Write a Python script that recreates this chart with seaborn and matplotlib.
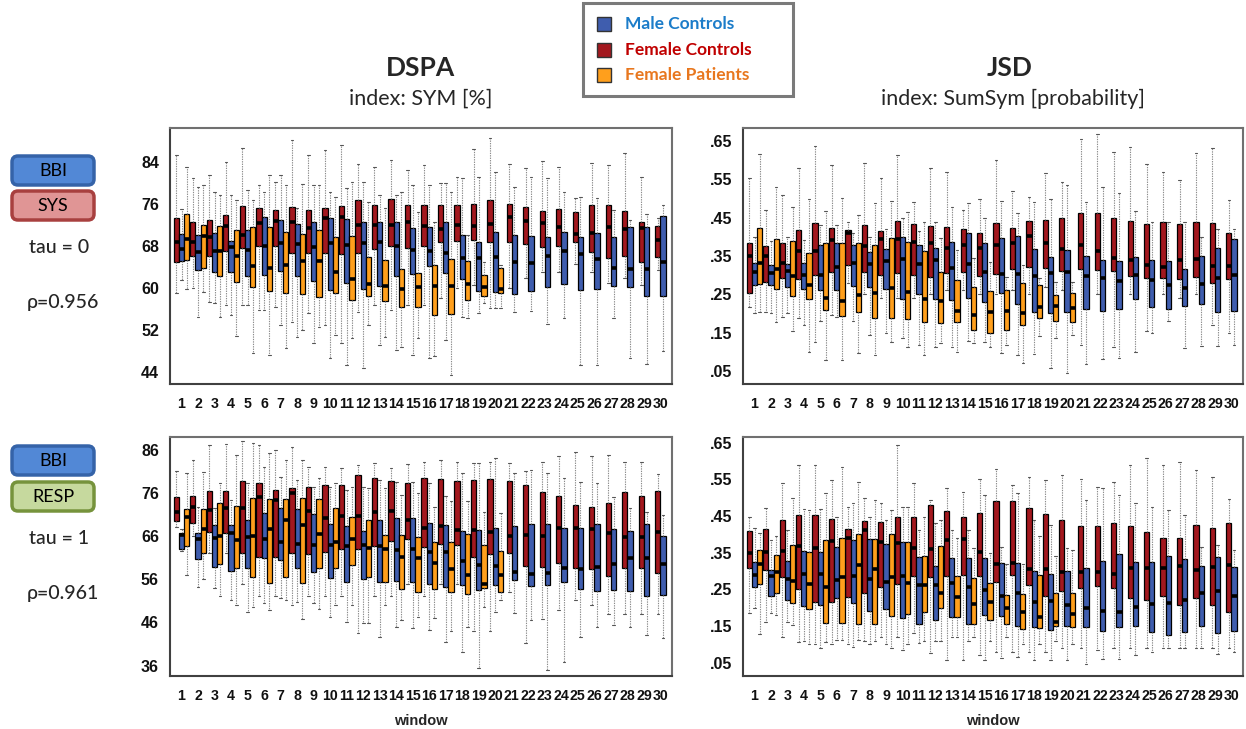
import matplotlib
matplotlib.use("Agg")
import matplotlib.pyplot as plt
from matplotlib.patches import FancyBboxPatch, Rectangle
import pandas as pd
import seaborn as sns

# ---------------------------------------------------------------------------
# Categories
# ---------------------------------------------------------------------------
WINDOWS = [str(w) for w in range(1, 31)]
N_PATIENT_WINDOWS = 20          # patients were only recorded in windows 1-20

GROUPS = ["Male Controls", "Female Controls", "Female Patients"]
BOX_COLORS = {"Male Controls": "#3F5DAE",
              "Female Controls": "#A3181E",
              "Female Patients": "#FF9F1C"}
TEXT_COLORS = {"Male Controls": "#1B7CC9",
               "Female Controls": "#C00000",
               "Female Patients": "#E8771E"}

# ---------------------------------------------------------------------------
# Five-number summaries per window: (whisker low, Q1, median, Q3, whisker high)
# ---------------------------------------------------------------------------
# DSPA, index SYM [%], BBI-SYS, tau = 0
DSPA_T0_FEMALE_CTRL = [
    (59.1, 64.9, 68.7, 73.3, 85.3), (60.0, 66.1, 68.7, 72.6, 80.9), (57.4, 66.1, 69.7, 73.0, 81.5),
    (56.8, 67.0, 71.9, 74.0, 84.1), (56.8, 67.7, 70.1, 75.6, 86.6), (55.8, 68.1, 72.3, 75.2, 79.6),
    (56.4, 68.1, 72.8, 74.9, 80.3), (53.6, 66.7, 72.6, 75.5, 88.2), (55.2, 66.6, 71.4, 74.9, 85.3),
    (53.0, 66.6, 73.3, 75.3, 86.3), (49.5, 66.4, 73.6, 75.6, 87.2), (55.5, 66.6, 72.1, 76.8, 83.6),
    (56.8, 67.4, 72.0, 75.9, 83.1), (55.8, 68.0, 72.1, 77.0, 84.4), (56.8, 67.6, 72.5, 75.8, 82.5),
    (56.8, 68.0, 71.8, 75.8, 83.4), (58.0, 68.7, 71.2, 75.8, 80.0), (60.0, 69.0, 72.0, 75.9, 81.2),
    (60.5, 69.1, 71.9, 76.1, 86.5), (56.1, 68.8, 72.2, 76.8, 88.5), (60.0, 68.7, 73.5, 76.1, 83.7),
    (62.0, 68.3, 72.8, 75.5, 82.8), (63.0, 67.9, 72.4, 74.7, 84.2), (63.0, 68.1, 71.6, 75.0, 83.1),
    (64.5, 68.7, 70.3, 74.5, 77.1), (63.0, 66.9, 70.5, 75.8, 83.9), (61.0, 65.8, 71.6, 75.8, 83.4),
    (62.0, 66.1, 71.2, 74.7, 85.7), (60.5, 65.0, 71.4, 72.5, 81.2), (63.5, 66.0, 69.1, 71.8, 73.3),
]
DSPA_T0_MALE = [
    (61.5, 65.1, 67.4, 70.2, 75.0), (54.5, 63.4, 66.8, 70.1, 79.3), (57.1, 63.0, 67.0, 70.4, 78.3),
    (54.9, 63.0, 67.9, 69.0, 77.7), (56.8, 62.3, 67.2, 71.0, 78.7), (55.8, 62.5, 68.1, 73.5, 78.3),
    (53.0, 63.2, 68.6, 73.0, 81.5), (50.7, 62.2, 68.3, 72.2, 75.2), (49.5, 61.3, 67.9, 72.6, 79.6),
    (46.6, 59.7, 68.6, 73.4, 78.3), (45.3, 60.9, 68.2, 73.1, 79.0), (44.7, 59.8, 68.5, 72.5, 80.3),
    (49.1, 60.3, 68.8, 72.5, 77.7), (48.2, 62.3, 68.1, 72.6, 77.7), (47.2, 62.7, 67.2, 71.5, 79.6),
    (46.6, 64.1, 67.0, 71.7, 79.6), (50.0, 62.8, 66.6, 72.6, 80.0), (54.5, 61.7, 65.8, 70.1, 80.9),
    (55.2, 59.4, 65.8, 68.8, 81.2), (56.1, 59.3, 66.0, 70.7, 82.2), (55.5, 58.8, 64.9, 70.1, 79.3),
    (55.6, 59.4, 64.8, 70.0, 81.2), (53.1, 60.1, 66.1, 69.8, 80.9), (54.2, 60.7, 67.1, 70.7, 78.3),
    (45.3, 59.6, 66.4, 69.8, 77.4), (45.3, 59.8, 65.5, 70.5, 77.1), (54.2, 60.4, 63.9, 69.8, 74.9),
    (46.7, 60.1, 63.7, 71.7, 73.0), (45.5, 58.5, 63.7, 71.6, 74.2), (47.9, 58.5, 65.0, 73.8, 75.9),
]
DSPA_T0_FEMALE_PAT = [
    (59.9, 65.3, 69.3, 74.2, 83.1), (59.3, 63.9, 69.9, 72.1, 79.6), (54.5, 62.2, 67.1, 71.9, 77.7),
    (50.9, 61.2, 66.1, 71.0, 76.8), (47.6, 60.1, 64.2, 71.7, 76.8), (47.3, 59.5, 63.9, 71.6, 81.5),
    (48.5, 59.1, 64.4, 70.7, 79.6), (52.0, 58.8, 65.2, 70.2, 79.9), (52.6, 58.3, 65.2, 71.0, 79.6),
    (51.0, 59.0, 63.0, 69.8, 77.4), (50.4, 57.8, 61.7, 69.9, 80.3), (53.0, 58.5, 60.8, 66.0, 76.4),
    (50.7, 57.5, 60.4, 65.3, 75.2), (48.8, 56.3, 59.9, 63.6, 78.3), (50.4, 56.3, 60.1, 62.9, 74.5),
    (47.0, 54.9, 60.4, 64.4, 72.6), (43.4, 55.0, 60.4, 65.5, 78.3), (54.2, 57.8, 60.8, 65.1, 70.1),
    (57.1, 58.5, 60.1, 62.5, 65.0), (56.1, 59.0, 59.8, 63.9, 64.4),
]

# JSD, index SumSym [probability], BBI-SYS, tau = 0
JSD_T0_FEMALE_CTRL = [
    (.217, .254, .351, .383, .553), (.205, .283, .351, .376, .470), (.192, .292, .331, .383, .510),
    (.187, .290, .363, .418, .579), (.126, .300, .363, .435, .636), (.196, .309, .392, .422, .588),
    (.280, .327, .409, .418, .440), (.250, .309, .377, .430, .592), (.240, .300, .394, .414, .553),
    (.240, .305, .394, .442, .614), (.240, .300, .387, .433, .490), (.250, .296, .383, .428, .579),
    (.260, .305, .370, .425, .570), (.260, .309, .380, .420, .470), (.250, .299, .370, .411, .500),
    (.250, .302, .379, .435, .600), (.260, .316, .385, .424, .520), (.250, .322, .402, .441, .505),
    (.270, .318, .385, .444, .566), (.260, .312, .368, .450, .542), (.118, .315, .379, .461, .655),
    (.250, .313, .363, .463, .668), (.113, .311, .344, .450, .622), (.250, .299, .340, .442, .635),
    (.154, .292, .327, .434, .589), (.250, .292, .321, .440, .570), (.240, .290, .340, .434, .548),
    (.250, .296, .342, .440, .618), (.170, .279, .325, .437, .631), (.148, .290, .325, .409, .496),
]
JSD_T0_MALE = [
    (.200, .274, .307, .331, .400), (.200, .274, .305, .327, .390), (.200, .270, .312, .328, .400),
    (.170, .264, .300, .331, .392), (.180, .261, .300, .380, .430), (.190, .261, .322, .383, .430),
    (.180, .273, .331, .380, .410), (.144, .270, .328, .361, .400), (.148, .264, .337, .368, .420),
    (.135, .239, .341, .400, .450), (.118, .252, .328, .379, .415), (.113, .238, .340, .372, .440),
    (.113, .235, .318, .386, .479), (.128, .241, .328, .409, .487), (.126, .229, .307, .383, .448),
    (.096, .254, .302, .398, .494), (.092, .226, .303, .403, .461), (.093, .205, .299, .368, .490),
    (.057, .202, .305, .348, .500), (.044, .203, .309, .366, .535), (.067, .211, .298, .351, .490),
    (.080, .206, .292, .340, .530), (.083, .213, .285, .337, .514), (.100, .239, .300, .348, .467),
    (.150, .218, .287, .340, .440), (.180, .213, .274, .337, .440), (.110, .220, .267, .315, .440),
    (.116, .224, .277, .350, .400), (.116, .205, .292, .370, .420), (.118, .206, .300, .394, .420),
]
JSD_T0_FEMALE_PAT = [
    (.205, .276, .331, .422, .615), (.179, .264, .316, .394, .531), (.153, .246, .298, .389, .479),
    (.100, .239, .274, .357, .500), (.079, .209, .240, .383, .467), (.079, .194, .233, .383, .502),
    (.096, .203, .248, .383, .457), (.092, .189, .253, .379, .488), (.126, .187, .267, .398, .494),
    (.113, .185, .257, .386, .464), (.092, .179, .238, .363, .440), (.122, .174, .232, .309, .396),
    (.100, .179, .207, .287, .366), (.122, .157, .196, .270, .344), (.113, .150, .203, .259, .335),
    (.118, .157, .206, .261, .296), (.072, .170, .200, .279, .327), (.140, .187, .218, .274, .292),
    (.135, .180, .220, .248, .283), (.145, .179, .215, .254, .283),
]

# DSPA, index SYM [%], BBI-RESP, tau = 1
DSPA_T1_FEMALE_CTRL = [
    (68.0, 69.5, 71.6, 75.1, 81.1), (66.0, 69.1, 72.8, 75.3, 83.6), (62.0, 67.0, 71.9, 76.5, 87.0),
    (62.0, 66.8, 72.4, 76.3, 87.3), (55.0, 62.0, 72.4, 78.7, 88.0), (52.0, 61.1, 75.1, 78.3, 87.0),
    (52.0, 61.2, 74.3, 76.6, 86.0), (50.0, 62.0, 76.0, 77.0, 86.7), (52.0, 61.8, 71.8, 77.4, 82.0),
    (52.0, 62.4, 70.1, 77.7, 82.0), (52.0, 63.1, 70.6, 77.8, 81.7), (43.5, 63.1, 70.6, 80.1, 82.4),
    (52.0, 63.7, 71.5, 79.3, 82.8), (52.0, 64.9, 71.8, 78.8, 81.7), (55.0, 65.3, 69.7, 78.3, 82.7),
    (52.0, 63.4, 67.8, 79.3, 83.2), (55.0, 64.1, 68.3, 79.1, 83.6), (55.0, 63.8, 67.4, 78.8, 83.2),
    (44.0, 61.1, 67.4, 79.0, 82.8), (44.0, 61.8, 67.0, 79.2, 83.0), (53.0, 62.0, 66.0, 78.8, 82.8),
    (41.2, 59.1, 66.2, 77.8, 81.1), (46.9, 58.9, 66.0, 76.1, 83.2), (48.9, 59.8, 67.8, 75.3, 84.4),
    (51.2, 58.7, 67.8, 73.2, 85.5), (50.0, 58.3, 67.5, 72.8, 84.4), (48.0, 56.8, 66.8, 73.6, 84.8),
    (48.0, 58.7, 65.7, 76.1, 83.2), (48.0, 58.7, 65.8, 75.3, 83.2), (48.0, 57.4, 67.0, 76.3, 80.4),
]
DSPA_T1_MALE = [
    (62.5, 63.1, 66.2, 66.8, 67.5), (54.3, 60.6, 65.2, 66.8, 72.8), (53.9, 58.9, 65.5, 68.5, 72.4),
    (51.2, 58.0, 66.6, 68.5, 74.3), (48.5, 58.7, 65.8, 69.7, 78.2), (50.4, 60.8, 65.2, 71.4, 82.0),
    (51.6, 60.4, 64.5, 72.4, 79.7), (50.8, 58.5, 64.1, 72.2, 79.0), (50.4, 57.7, 63.9, 71.1, 77.4),
    (47.3, 56.2, 63.9, 68.8, 77.4), (46.2, 55.4, 63.7, 68.3, 76.6), (45.8, 56.0, 63.9, 67.2, 77.4),
    (42.7, 55.4, 63.7, 69.7, 79.0), (45.0, 55.6, 62.8, 70.1, 78.6), (44.6, 55.4, 62.9, 70.2, 78.6),
    (44.2, 54.9, 62.2, 69.1, 78.2), (41.5, 54.3, 62.4, 68.5, 75.2), (39.2, 54.7, 60.1, 67.2, 80.5),
    (35.4, 53.5, 59.3, 67.4, 82.8), (48.3, 54.7, 59.1, 67.8, 84.0), (48.1, 55.7, 57.7, 68.3, 80.5),
    (46.6, 54.4, 57.1, 68.7, 81.3), (35.0, 54.7, 57.5, 68.8, 80.5), (36.9, 55.3, 58.5, 67.8, 79.3),
    (42.7, 53.7, 58.3, 67.8, 78.6), (45.0, 53.3, 58.9, 68.8, 78.2), (45.4, 53.5, 59.5, 67.5, 75.1),
    (45.0, 53.3, 61.0, 67.2, 72.4), (43.1, 52.2, 60.8, 68.7, 71.6), (42.3, 52.3, 59.5, 66.0, 70.9),
]
DSPA_T1_FEMALE_PAT = [
    (57.0, 63.7, 70.3, 72.2, 80.5), (56.0, 62.0, 67.5, 72.2, 80.9), (52.0, 59.5, 66.0, 73.6, 78.2),
    (50.0, 58.7, 65.1, 73.0, 84.8), (49.6, 56.4, 66.0, 74.7, 87.5), (48.9, 55.2, 67.5, 74.5, 85.1),
    (51.2, 56.4, 69.7, 74.5, 83.6), (46.9, 55.2, 68.5, 74.9, 83.6), (49.0, 58.7, 66.5, 74.5, 79.3),
    (50.0, 58.7, 64.7, 72.4, 78.2), (50.0, 59.3, 65.3, 70.5, 77.4), (45.9, 56.4, 63.3, 69.7, 77.0),
    (50.0, 55.4, 63.1, 66.2, 77.0), (46.6, 53.7, 61.2, 66.2, 75.5), (47.3, 53.1, 61.0, 65.8, 75.9),
    (47.0, 53.7, 59.8, 64.7, 72.8), (44.0, 53.1, 58.4, 64.7, 74.0), (45.0, 52.6, 57.0, 66.4, 74.0),
    (49.6, 53.9, 55.0, 63.9, 71.6), (51.2, 53.1, 57.0, 62.6, 71.2),
]

# JSD, index SumSym [probability], BBI-RESP, tau = 1
JSD_T1_FEMALE_CTRL = [
    (.185, .309, .350, .410, .446), (.162, .303, .353, .414, .471), (.121, .283, .355, .439, .539),
    (.107, .251, .368, .453, .589), (.100, .216, .362, .453, .590), (.100, .216, .383, .441, .548),
    (.100, .230, .389, .414, .475), (.110, .241, .412, .437, .498), (.120, .257, .380, .434, .484),
    (.120, .265, .375, .446, .643), (.130, .287, .362, .448, .539), (.076, .285, .360, .480, .494),
    (.058, .286, .385, .464, .525), (.058, .289, .386, .446, .516), (.070, .286, .353, .457, .550),
    (.080, .269, .318, .491, .577), (.080, .289, .321, .491, .534), (.080, .262, .305, .471, .557),
    (.080, .232, .306, .455, .548), (.090, .246, .296, .439, .562), (.090, .255, .298, .423, .550),
    (.085, .260, .296, .423, .530), (.090, .255, .291, .432, .543), (.090, .227, .307, .423, .589),
    (.090, .221, .309, .405, .607), (.090, .233, .309, .391, .589), (.090, .207, .314, .389, .596),
    (.090, .227, .303, .425, .575), (.090, .207, .310, .418, .557), (.090, .189, .316, .430, .495),
]
JSD_T1_MALE = [
    (.200, .256, .289, .324, .416), (.185, .233, .286, .303, .385), (.160, .221, .278, .327, .412),
    (.110, .206, .291, .355, .468), (.090, .207, .292, .353, .470), (.112, .226, .276, .365, .448),
    (.094, .212, .286, .385, .484), (.100, .192, .278, .387, .448), (.100, .196, .269, .374, .439),
    (.085, .173, .286, .380, .475), (.103, .157, .262, .337, .412), (.110, .167, .262, .314, .432),
    (.120, .176, .268, .335, .412), (.110, .157, .257, .336, .412), (.058, .180, .248, .335, .507),
    (.062, .178, .232, .321, .366), (.067, .151, .239, .321, .512), (.058, .147, .215, .301, .439),
    (.058, .139, .218, .292, .425), (.058, .151, .207, .300, .362), (.048, .148, .198, .307, .494),
    (.060, .137, .191, .328, .525), (.060, .148, .187, .346, .507), (.070, .151, .203, .324, .484),
    (.080, .133, .210, .325, .475), (.090, .127, .214, .342, .466), (.090, .133, .221, .332, .453),
    (.090, .150, .241, .314, .366), (.075, .130, .246, .339, .371), (.080, .137, .232, .312, .357),
]
JSD_T1_FEMALE_PAT = [
    (.128, .265, .319, .357, .403), (.180, .241, .298, .344, .394), (.153, .214, .273, .371, .498),
    (.100, .196, .265, .353, .466), (.107, .159, .257, .385, .512), (.112, .159, .285, .389, .584),
    (.112, .155, .316, .401, .543), (.110, .157, .305, .387, .493), (.089, .178, .283, .400, .466),
    (.100, .183, .268, .380, .475), (.110, .187, .262, .341, .448), (.110, .198, .241, .368, .439),
    (.120, .176, .230, .286, .389), (.120, .157, .210, .280, .362), (.110, .167, .215, .268, .348),
    (.120, .156, .200, .235, .320), (.100, .142, .189, .236, .320), (.100, .144, .176, .289, .394),
    (.110, .150, .162, .239, .341), (.100, .148, .183, .239, .357),
]

# Axis tick values and labels
DSPA_T0_TICKS = [44, 52, 60, 68, 76, 84]
DSPA_T1_TICKS = [36, 46, 56, 66, 76, 86]
JSD_TICKS = [.05, .15, .25, .35, .45, .55, .65]
JSD_TICK_LABELS = [".05", ".15", ".25", ".35", ".45", ".55", ".65"]

# ---------------------------------------------------------------------------
sns.set_style("white")
plt.rcParams["font.family"] = ["Liberation Sans", "DejaVu Sans"]
TITLE_FONT = ["Lato", "DejaVu Sans"]

FIG_W, FIG_H = 1246, 729
fig = plt.figure(figsize=(FIG_W / 100, FIG_H / 100), dpi=100)


def long_frame(male, fem_ctrl, fem_pat):
    rows = []
    for group, boxes in zip(GROUPS, (male, fem_ctrl, fem_pat)):
        for win, summary in zip(WINDOWS, boxes):
            for value in summary:
                rows.append((win, group, value))
    return pd.DataFrame(rows, columns=["window", "group", "value"])


def px_axes(x0, y0, x1, y1):
    return fig.add_axes([x0 / FIG_W, 1 - y1 / FIG_H, (x1 - x0) / FIG_W, (y1 - y0) / FIG_H])


BOX_STYLE = dict(
    x="window", y="value", hue="group", order=WINDOWS, palette=BOX_COLORS,
    saturation=1, whis=(0, 100), dodge=True, legend=False, showfliers=False,
    linecolor="black", linewidth=0.9,
    medianprops=dict(color="black", linewidth=2.6),
    whiskerprops=dict(color="#8c8c8c", linewidth=0.8, linestyle=(0, (1.2, 1.0))),
    capprops=dict(color="#555555", linewidth=0.8),
)


def draw_panel(ax, male, fem_ctrl, fem_pat, ylim, yticks, yticklabels, xlabel):
    df = long_frame(male, fem_ctrl, fem_pat)
    early = df[df["window"].isin(WINDOWS[:N_PATIENT_WINDOWS])]
    late = df[~df["window"].isin(WINDOWS[:N_PATIENT_WINDOWS])]
    sns.boxplot(data=early, ax=ax, width=0.95,
                hue_order=["Female Controls", "Male Controls", "Female Patients"], **BOX_STYLE)
    sns.boxplot(data=late, ax=ax, width=0.634,
                hue_order=["Female Controls", "Male Controls"], **BOX_STYLE)
    ax.set_xlim(-0.7, 29.7)
    ax.set_ylim(*ylim)
    ax.set_yticks(yticks)
    ax.set_yticklabels(yticklabels)
    ax.set_xticks(range(len(WINDOWS)))
    ax.set_xticklabels(WINDOWS)
    ax.set_ylabel("")
    ax.set_xlabel(xlabel, fontsize=10.5, fontweight="bold", labelpad=8)
    ax.tick_params(axis="both", direction="out", length=6, width=1.4, color="#222222",
                   labelsize=11.5, pad=2)
    ax.tick_params(axis="x", length=7, labelsize=10.2)
    for lbl in ax.get_xticklabels() + ax.get_yticklabels():
        lbl.set_fontweight("bold")
        lbl.set_color("#111111")
    for spine in ax.spines.values():
        spine.set_visible(True)
        spine.set_color("#707070")
        spine.set_linewidth(1.5)
    ax.spines["left"].set_color("#404040")
    ax.spines["bottom"].set_color("#404040")


ax_tl = px_axes(170, 128, 672, 384)
ax_tr = px_axes(743, 128, 1243, 384)
ax_bl = px_axes(170, 437, 672, 676)
ax_br = px_axes(743, 437, 1243, 676)

draw_panel(ax_tl, DSPA_T0_MALE, DSPA_T0_FEMALE_CTRL, DSPA_T0_FEMALE_PAT,
           (41.7, 90.5), DSPA_T0_TICKS, [str(t) for t in DSPA_T0_TICKS], "")
draw_panel(ax_tr, JSD_T0_MALE, JSD_T0_FEMALE_CTRL, JSD_T0_FEMALE_PAT,
           (0.016, 0.684), JSD_TICKS, JSD_TICK_LABELS, "")
draw_panel(ax_bl, DSPA_T1_MALE, DSPA_T1_FEMALE_CTRL, DSPA_T1_FEMALE_PAT,
           (33.6, 88.9), DSPA_T1_TICKS, [str(t) for t in DSPA_T1_TICKS], "window")
draw_panel(ax_br, JSD_T1_MALE, JSD_T1_FEMALE_CTRL, JSD_T1_FEMALE_PAT,
           (0.014, 0.665), JSD_TICKS, JSD_TICK_LABELS, "window")

# ---------------------------------------------------------------------------
# Annotation layer in pixel coordinates
# ---------------------------------------------------------------------------
ann = fig.add_axes([0, 0, 1, 1], zorder=-1)
ann.set_xlim(0, FIG_W)
ann.set_ylim(FIG_H, 0)
ann.axis("off")

# column titles
ann.text(421, 68, "DSPA", ha="center", va="center", fontsize=19, fontweight="bold",
         family=TITLE_FONT)
ann.text(421, 99, "index: SYM [%]", ha="center", va="center", fontsize=15.5, family=TITLE_FONT)
ann.text(1010, 68, "JSD", ha="center", va="center", fontsize=19, fontweight="bold",
         family=TITLE_FONT)
ann.text(1013, 99, "index: SumSym [probability]", ha="center", va="center", fontsize=15.5,
         family=TITLE_FONT)

# group legend
ann.add_patch(Rectangle((583, 3), 210, 93, facecolor="white", edgecolor="#7a7a7a",
                        linewidth=2.2))
for i, group in enumerate(GROUPS):
    yc = 24 + i * 25.7
    ann.add_patch(Rectangle((597, yc - 7), 14, 14, facecolor=BOX_COLORS[group],
                            edgecolor="#333333", linewidth=1.0))
    ann.text(625, yc, group, ha="left", va="center", fontsize=12.5, fontweight="bold",
             color=TEXT_COLORS[group], family=TITLE_FONT)


def signal_tag(x, y, label, face, edge):
    ann.add_patch(FancyBboxPatch((x, y), 82, 29, boxstyle="round,pad=0,rounding_size=6",
                                 facecolor=face, edgecolor=edge, linewidth=2.5))
    ann.text(x + 41, y + 15, label, ha="center", va="center", fontsize=13,
             family=TITLE_FONT, color="black")


# row descriptions
signal_tag(12, 156, "BBI", "#5288D6", "#3563A8")
signal_tag(12, 191, "SYS", "#E09595", "#A8403F")
ann.text(59, 247, "tau = 0", ha="center", va="center", fontsize=14, family=TITLE_FONT,
         fontweight="medium")
ann.text(63, 302, "\u03c1=0.956", ha="center", va="center", fontsize=14, family=TITLE_FONT,
         fontweight="medium")

signal_tag(12, 446, "BBI", "#5288D6", "#3563A8")
signal_tag(12, 482, "RESP", "#C6D99E", "#76933C")
ann.text(59, 538, "tau = 1", ha="center", va="center", fontsize=14, family=TITLE_FONT,
         fontweight="medium")
ann.text(63, 594, "\u03c1=0.961", ha="center", va="center", fontsize=14, family=TITLE_FONT,
         fontweight="medium")

fig.savefig("out.png", dpi=100)
